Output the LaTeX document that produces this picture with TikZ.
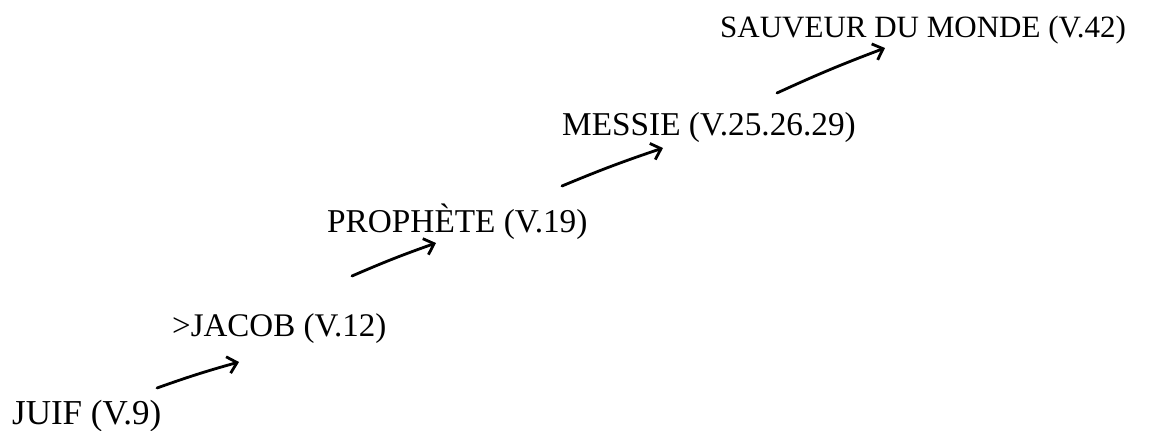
\documentclass[tikz,border=0pt]{standalone}
\usepackage{fontspec}
\setmainfont{Liberation Serif}
\usetikzlibrary{arrows.meta}
\begin{document}
\begin{tikzpicture}[x=1bp,y=-1bp,
  lbl/.style={anchor=base west,inner sep=0pt,font=\fontsize{33bp}{38bp}\selectfont},
  arr/.style={line width=2.8bp,line cap=round,-{Straight Barb[length=9bp,width=17bp,line width=2.8bp]}}]
\fill[white] (0,0) rectangle (1160,430);
\useasboundingbox (0,0) rectangle (1160,430);
\node[lbl,font=\fontsize{35bp}{38bp}\selectfont] (juif) at (12,424) {JUIF (V.9)};
\node[lbl] (jacob) at (172,336) {>JACOB (V.12)};
\node[lbl,font=\fontsize{33.3bp}{38bp}\selectfont] (prophete) at (327,232) {PROPHÈTE (V.19)};
\node[lbl,font=\fontsize{33.3bp}{38bp}\selectfont] (messie) at (562,135) {MESSIE (V.25.26.29)};
\node[lbl,font=\fontsize{31bp}{38bp}\selectfont] (sauveur) at (720,37) {SAUVEUR DU MONDE (V.42)};
\coordinate (a1s) at (157,388); \coordinate (a1e) at (239,362);
\coordinate (a2s) at (352,276); \coordinate (a2e) at (436,243);
\coordinate (a3s) at (562,186); \coordinate (a3e) at (663,148);
\coordinate (a4s) at (777,93);  \coordinate (a4e) at (885,48);
\draw[arr] (a1s) to[bend left=2] (a1e);
\draw[arr] (a2s) to[bend left=2] (a2e);
\draw[arr] (a3s) to[bend left=2] (a3e);
\draw[arr] (a4s) to[bend left=2] (a4e);
\end{tikzpicture}
\end{document}
